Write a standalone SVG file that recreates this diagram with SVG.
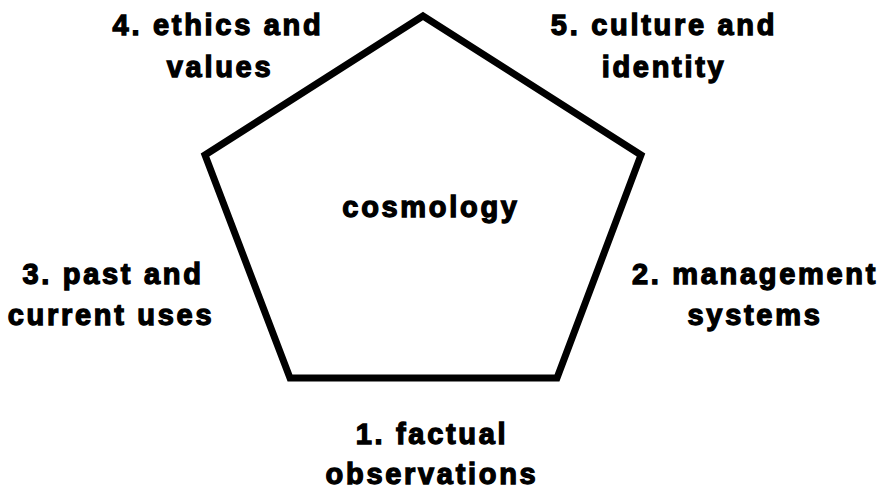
<svg xmlns="http://www.w3.org/2000/svg" width="886" height="489" viewBox="0 0 886 489">
<style>
.t{font-family:"Liberation Sans",Arial,sans-serif;font-weight:bold;font-size:29px;letter-spacing:2.7px;fill:#000;stroke:#000;stroke-width:1.3;text-anchor:middle}
</style>
<rect width="886" height="489" fill="#fff"/>
<g id="pentagon">
<polygon points="423,16 641,155 557,378 290,378 205,155" fill="none" stroke="#000" stroke-width="7" stroke-linejoin="miter"/>
<text class="t" x="431" y="217">cosmology</text>
</g>
<g id="connectors"></g>
<g id="n4"><text class="t" x="218" y="35">4. ethics and</text><text class="t" x="220" y="77">values</text></g>
<g id="n5"><text class="t" x="664" y="35">5. culture and</text><text class="t" x="664" y="77">identity</text></g>
<g id="n3"><text class="t" x="113" y="284">3. past and</text><text class="t" x="111" y="325">current uses</text></g>
<g id="n2"><text class="t" x="755" y="284">2. management</text><text class="t" x="755" y="325">systems</text></g>
<g id="n1"><text class="t" x="432" y="444">1. factual</text><text class="t" x="432" y="484">observations</text></g>
</svg>
